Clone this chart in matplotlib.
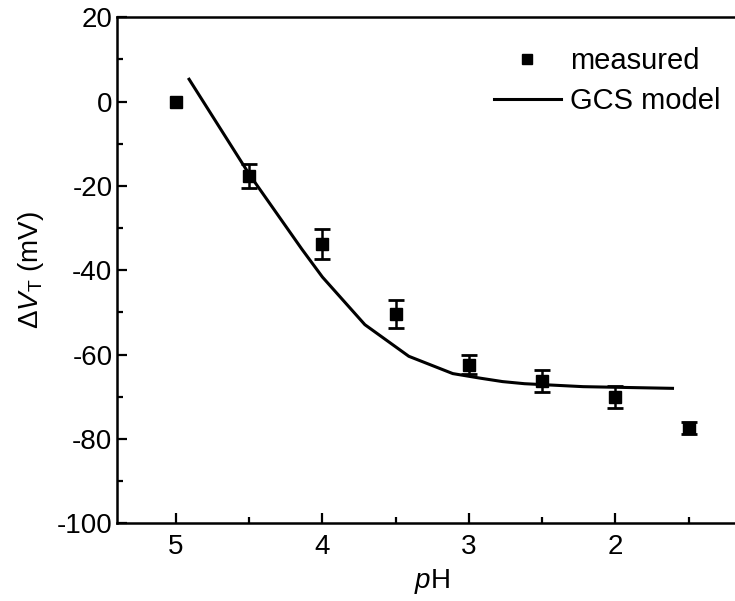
import numpy as np
import matplotlib.pyplot as plt
from matplotlib.ticker import MultipleLocator
from matplotlib.lines import Line2D

# measured threshold shift vs pH
ph = [5.0, 4.5, 4.0, 3.5, 3.0, 2.5, 2.0, 1.5]
dvt = [0.0, -17.7, -33.8, -50.4, -62.4, -66.2, -70.0, -77.4]
dvt_err = [0.0, 2.8, 3.6, 3.4, 2.3, 2.6, 2.6, 1.4]

# GCS model curve
ph_model = [4.91, 4.5, 4.14, 4.0, 3.71, 3.41, 3.11, 2.92, 2.77, 2.62, 2.22, 1.61]
dvt_model = [5.3, -17.2, -35.0, -41.6, -52.9, -60.4, -64.5, -65.6, -66.4, -66.9, -67.6, -68.0]

plt.rcParams['font.family'] = ['Liberation Sans', 'DejaVu Sans']
plt.rcParams['mathtext.fontset'] = 'custom'
plt.rcParams['mathtext.rm'] = 'Liberation Sans'
plt.rcParams['mathtext.it'] = 'Liberation Sans:italic'
plt.rcParams['axes.unicode_minus'] = False

fig = plt.figure(figsize=(7.35, 6.01), dpi=100)
ax = fig.add_axes([0.1596, 0.1293, 0.857, 0.842])

x = np.array(ph)
y = np.array(dvt)
e = np.array(dvt_err)
has_err = e > 0
ax.errorbar(x[has_err], y[has_err], yerr=e[has_err], fmt='none', ecolor='black',
            elinewidth=1.8, capsize=6, capthick=2, zorder=3)
ax.plot(x, y, 's', color='black', markersize=8.5, zorder=4)
ax.plot(ph_model, dvt_model, '-', color='black', linewidth=2.2)

ax.set_xlim(5.4, 1.1)
ax.set_ylim(-100, 20)
ax.xaxis.set_major_locator(MultipleLocator(1))
ax.xaxis.set_minor_locator(MultipleLocator(0.5))
ax.yaxis.set_major_locator(MultipleLocator(20))
ax.yaxis.set_minor_locator(MultipleLocator(10))

ax.tick_params(which='both', direction='in', labelsize=20, width=1.6)
ax.tick_params(which='major', length=7)
ax.tick_params(which='minor', length=4)
ax.tick_params(axis='x', pad=8)
for s in ax.spines.values():
    s.set_linewidth(1.8)

ax.set_xlabel(r'$p$H', fontsize=20, labelpad=5)
ax.set_ylabel(r'$\Delta V_\mathrm{T}$ (mV)', fontsize=20, labelpad=8)

handles = [
    Line2D([], [], linestyle='none', marker='s', color='black', markersize=7),
    Line2D([], [], linestyle='-', color='black', linewidth=2.2),
]
ax.legend(handles, ['measured', 'GCS model'], loc='upper right',
          bbox_to_anchor=(0.985, 0.975), frameon=False, fontsize=21,
          handlelength=2.3, handletextpad=0.3, labelspacing=0.4,
          borderaxespad=0.2)

fig.savefig('out.png', dpi=100)
